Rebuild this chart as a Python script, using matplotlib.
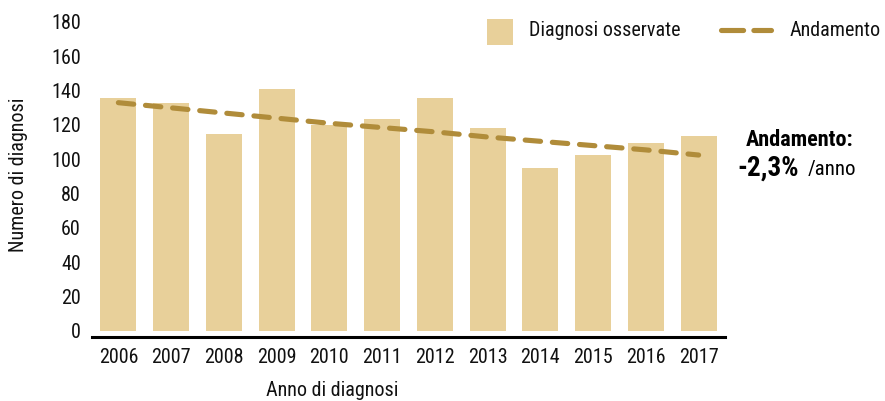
import matplotlib
matplotlib.use("Agg")
import matplotlib.pyplot as plt
from matplotlib.patches import Rectangle
from matplotlib.lines import Line2D

years = ["2006", "2007", "2008", "2009", "2010", "2011", "2012", "2013", "2014", "2015", "2016", "2017"]
observed = [135.5, 133, 114.5, 141, 120, 123.5, 135.5, 118, 95, 102.5, 109.5, 113.5]
trend = [133, 130, 127, 124, 121, 118.5, 116, 113, 110.5, 108, 105.5, 102.5]
legend_labels = ["Diagnosi osservate", "Andamento"]

bar_color = "#E8D09A"
line_color = "#B08C3A"
font = ["Roboto Condensed", "DejaVu Sans"]
plt.rcParams["font.family"] = font
fs = 14.5
dash = (0, (3.0, 2.3))
lw = 3.7

fig = plt.figure(figsize=(8.85, 4.01), dpi=100)
W, H = 885, 401
ax = fig.add_axes([92 / W, 64 / H, (725 - 92) / W, (337 - 22) / H])

x = list(range(len(years)))
ax.bar(x, observed, width=0.68, color=bar_color, zorder=1)
ax.plot(x, trend, color=line_color, lw=lw, linestyle=dash,
        dash_capstyle="round", zorder=2)

ax.set_xlim(-0.5, 11.5)
ax.set_ylim(-3.5, 180)
ax.set_yticks(range(0, 181, 20))
ax.set_xticks(x)
ax.set_xticklabels(years)
for s in ["top", "right", "left"]:
    ax.spines[s].set_visible(False)
ax.spines["bottom"].set_linewidth(2.2)
ax.spines["bottom"].set_color("black")
ax.tick_params(axis="both", length=0, labelsize=fs, colors="#111111")
ax.tick_params(axis="x", pad=8)
ax.tick_params(axis="y", pad=8)

fig.text(19 / W, 1 - 175 / H, "Numero di diagnosi", rotation=90, ha="center", va="center",
         fontsize=fs, color="#111111")
fig.text(332 / W, 1 - 391 / H, "Anno di diagnosi", ha="center", va="center",
         fontsize=fs, color="#111111")

# legend (manual placement)
fig.add_artist(Rectangle((487 / W, 1 - 45 / H), 26 / W, 26 / H, transform=fig.transFigure,
                         facecolor=bar_color, edgecolor="none"))
fig.text(529 / W, 1 - 31 / H, legend_labels[0], ha="left", va="center", fontsize=fs, color="#111111")
fig.add_artist(Line2D([721 / W, 771 / W], [1 - 30 / H, 1 - 30 / H], transform=fig.transFigure,
                      color=line_color, lw=lw, linestyle=(0, (4.3, 2.0)), dash_capstyle="round"))
fig.text(790 / W, 1 - 31 / H, legend_labels[1], ha="left", va="center", fontsize=fs, color="#111111")

fig.text(800 / W, 1 - 140 / H, "Andamento:", ha="center", va="center",
         fontsize=16, fontweight="bold", color="black")
fig.text(737 / W, 1 - 168 / H, "-2,3%", ha="left", va="center",
         fontsize=19.5, fontweight="bold", color="black")
fig.text(808 / W, 1 - 169 / H, "/anno", ha="left", va="center",
         fontsize=15, color="black")

fig.savefig("out.png", dpi=100)
